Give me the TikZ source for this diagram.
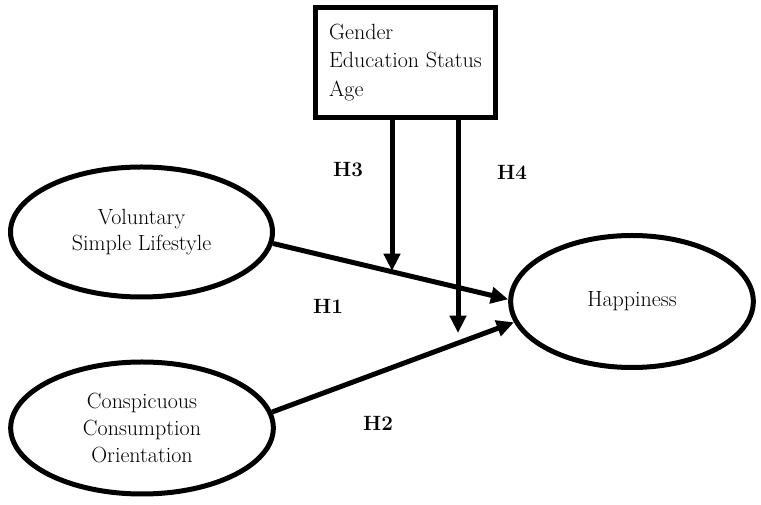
\documentclass[tikz,border=0pt]{standalone}
\usetikzlibrary{shapes.geometric}
\usetikzlibrary{arrows.meta}

\begin{document}
\begin{tikzpicture}[x=0.75pt,y=-0.75pt,
  constructo/.style={ellipse,draw=black,line width=3.75pt,align=center,inner sep=0pt,font=\fontsize{16.5}{20}\selectfont},
  hipo/.style={font=\fontsize{15.5}{20}\selectfont\bfseries},
  flecha/.style={line width=3.75pt,-{Triangle[length=13pt,width=12pt]}}]
\useasboundingbox (0,0) rectangle (761,505);
\path (141.5,232) node(vsl)[constructo,minimum width=196.5pt,minimum height=97.5pt]{Voluntary\\ Simple Lifestyle}
(142,428) node(cco)[constructo,minimum width=197pt,minimum height=99pt]{Conspicuous\\ Consumption\\ Orientation}
(632,301.5) node(hap)[constructo,minimum width=182pt,minimum height=99pt]{Happiness}
(405.5,62.5) node(box)[rectangle,draw=black,line width=3.75pt,align=left,minimum width=135pt,minimum height=82.5pt,font=\fontsize{16.5}{21.5}\selectfont]{Gender\\
Education Status\\
Age};
\coordinate (m3) at (392,271);
\coordinate (m4) at (458,333);
\draw[flecha](vsl.-5)--(hap.179);
\draw[flecha](cco.7)--(hap.190);
\draw[flecha](box.south -| m3)--(m3);
\draw[flecha](box.south -| m4)--(m4);
\path (348,170) node(h3)[hipo]{H3}
(512,172) node(h4)[hipo]{H4}
(328,306) node(h1)[hipo]{H1}
(378,423) node(h2)[hipo]{H2};
\end{tikzpicture}
\end{document}
